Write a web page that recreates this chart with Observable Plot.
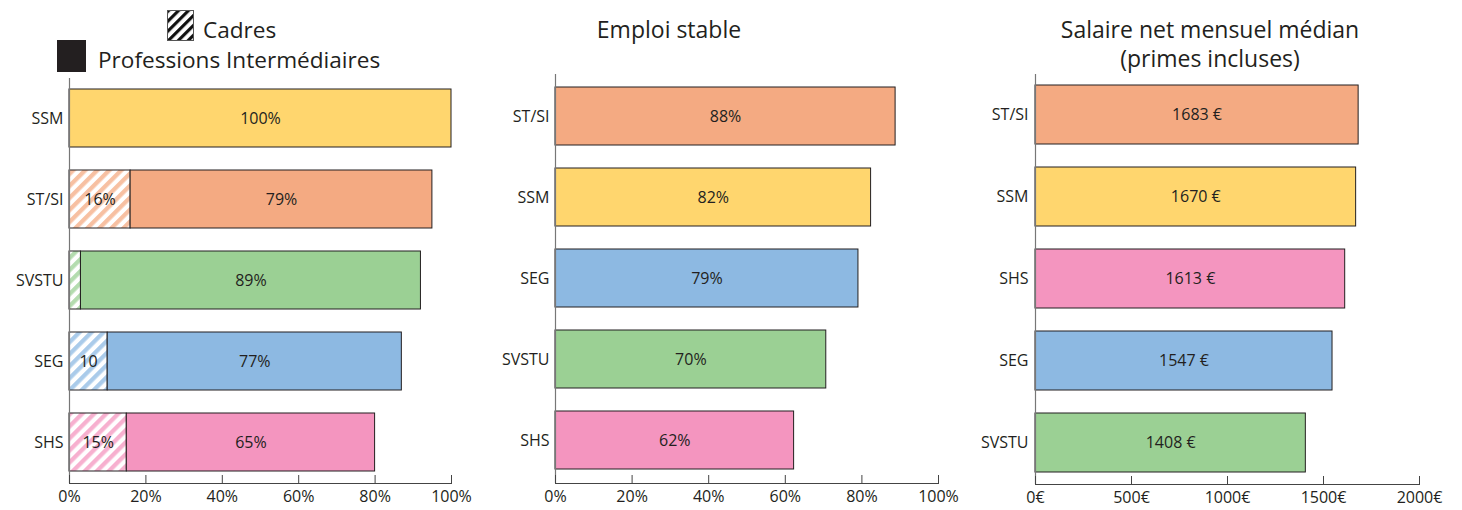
<!DOCTYPE html>
<html><head><meta charset="utf-8">
<script src="https://cdn.jsdelivr.net/npm/d3@7"></script>
<script src="https://cdn.jsdelivr.net/npm/@observablehq/plot@0.6"></script>
<style>
body{margin:0;background:#fff;font-family:"Open Sans",sans-serif;color:#231f20}
#wrap{position:relative;width:1462px;height:510px;overflow:hidden;background:#fff}
.panel{position:absolute;top:0}
.title{position:absolute;font-size:23px;line-height:29px;text-align:center;white-space:nowrap;color:#231f20}
.leg{position:absolute;font-size:22.6px;line-height:30px;white-space:nowrap;color:#231f20}
.leg span{position:relative;top:4px}
</style></head>
<body><div id="wrap">
<div class="leg" style="left:167px;top:10px;display:flex;align-items:center;">
 <svg width="27" height="31" style="margin-right:9px"><defs><pattern id="legHatch" patternUnits="userSpaceOnUse" width="7" height="7" patternTransform="rotate(45)"><rect width="7" height="7" fill="#fff"/><rect width="3.2" height="7" fill="#111"/></pattern></defs><rect x="0.5" y="0.5" width="26" height="30" fill="url(#legHatch)" stroke="#555"/></svg><span>Cadres</span></div>
<div class="leg" style="left:57px;top:40px;display:flex;align-items:center;">
 <svg width="29" height="32" style="margin-right:12px"><rect width="29" height="32" fill="#231f20"/></svg><span>Professions Intermédiaires</span></div>
<div class="title" style="left:569px;width:200px;top:15px">Emploi stable</div>
<div class="title" style="left:1060px;width:300px;top:15px">Salaire net mensuel médian<br>(primes incluses)</div>
</div>
<script>
// ---------- data ----------
const categoriesP1 = ["SSM", "ST/SI", "SVSTU", "SEG", "SHS"];
const cadres = [0, 16, 3, 10, 15];
const cadresLabels = ["", "16%", "", "10", "15%"];
const profInter = [100, 79, 89, 77, 65];
const profInterLabels = ["100%", "79%", "89%", "77%", "65%"];

const categoriesP2 = ["ST/SI", "SSM", "SEG", "SVSTU", "SHS"];
const emploiStable = [88.8, 82.4, 79.1, 70.7, 62.3];
const emploiLabels = ["88%", "82%", "79%", "70%", "62%"];

const categoriesP3 = ["ST/SI", "SSM", "SHS", "SEG", "SVSTU"];
const salaire = [1683, 1670, 1613, 1547, 1408];
const salaireLabels = ["1683 €", "1670 €", "1613 €", "1547 €", "1408 €"];

const pctTicks = [0, 20, 40, 60, 80, 100];
const eurTicks = [0, 500, 1000, 1500, 2000];

const colorKeys = ["SSM", "ST/SI", "SVSTU", "SEG", "SHS"];
const colorValues = ["#FFD66E", "#F4AA82", "#9BD094", "#8DB9E2", "#F495BF"];

// ---------- helpers ----------
const colorOf = c => colorValues[colorKeys.indexOf(c)];
const ink = "#231f20";
const wrap = document.getElementById("wrap");
const baseStyle = {fontFamily: "'Open Sans', sans-serif", fontSize: "16px", color: ink, background: "transparent", overflow: "visible"};

function patternDefs() {
  const defs = d3.create("svg:defs");
  colorKeys.forEach((k, i) => {
    const p = defs.append("pattern").attr("id", "hatch" + i)
      .attr("patternUnits", "userSpaceOnUse").attr("width", 8.5).attr("height", 8.5)
      .attr("patternTransform", "rotate(45)");
    p.append("rect").attr("width", 8.5).attr("height", 8.5).attr("fill", "#fff");
    p.append("rect").attr("width", 4.3).attr("height", 8.5).attr("fill", colorValues[i]).attr("opacity", 0.75);
  });
  return defs.node();
}

function place(svg, left) {
  const d = document.createElement("div");
  d.className = "panel";
  d.style.left = left + "px";
  d.appendChild(svg);
  wrap.appendChild(d);
}

// ---------- panel 1 ----------
const d1 = categoriesP1.map((c, i) => ({cat: c, cadres: cadres[i], pi: profInter[i], cl: cadresLabels[i], pl: profInterLabels[i]}));
const p1 = Plot.plot({
  width: 480, height: 510,
  marginLeft: 69, marginRight: 29, marginTop: 78, marginBottom: 27,
  style: baseStyle,
  x: {domain: [0, 100], label: null},
  y: {domain: categoriesP1, range: [89, 472], paddingInner: 0.28, paddingOuter: 0, label: null},
  color: {type: "identity"},
  marks: [
    patternDefs,
    Plot.barX(d1.filter(d => d.cadres > 0), {y: "cat", x1: 0, x2: "cadres", fill: d => `url(#hatch${colorKeys.indexOf(d.cat)})`, stroke: ink, strokeWidth: 1}),
    Plot.barX(d1, {y: "cat", x1: "cadres", x2: d => d.cadres + d.pi, fill: d => colorOf(d.cat), stroke: ink, strokeWidth: 1}),
    Plot.ruleX([0], {stroke: "#777", strokeWidth: 1.2}),
    Plot.frame({anchor: "bottom", stroke: "#444"}),
    Plot.ruleX(pctTicks, {x: d => d, stroke: "#444", insetTop: 397}),
    Plot.text(d1.filter(d => d.cl), {y: "cat", x: d => d.cadres / 2, text: "cl", fill: ink, fontSize: 16}),
    Plot.text(d1, {y: "cat", x: d => d.cadres + d.pi / 2, text: "pl", fill: ink, fontSize: 16}),
    Plot.axisY({tickSize: 0, tickPadding: 6, fontSize: 16, label: null}),
    Plot.axisX({ticks: pctTicks, tickFormat: d => d + "%", tickSize: 0, tickPadding: 7, fontSize: 16, label: null})
  ]
});
place(p1, 0);

// ---------- panel 2 ----------
const d2 = categoriesP2.map((c, i) => ({cat: c, v: emploiStable[i], l: emploiLabels[i]}));
const p2 = Plot.plot({
  width: 490, height: 510,
  marginLeft: 75, marginRight: 32, marginTop: 74, marginBottom: 27,
  style: baseStyle,
  x: {domain: [0, 100], label: null},
  y: {domain: categoriesP2, range: [85, 472], paddingInner: 0.28, paddingOuter: 0, label: null},
  color: {type: "identity"},
  marks: [
    Plot.barX(d2, {y: "cat", x: "v", fill: d => colorOf(d.cat), stroke: ink, strokeWidth: 1}),
    Plot.ruleX([0], {stroke: "#777", strokeWidth: 1.2}),
    Plot.frame({anchor: "bottom", stroke: "#444"}),
    Plot.ruleX(pctTicks, {x: d => d, stroke: "#444", insetTop: 401}),
    Plot.text(d2, {y: "cat", x: d => d.v / 2, text: "l", fill: ink, fontSize: 16}),
    Plot.axisY({tickSize: 0, tickPadding: 6, fontSize: 16, label: null}),
    Plot.axisX({ticks: pctTicks, tickFormat: d => d + "%", tickSize: 0, tickPadding: 7, fontSize: 16, label: null})
  ]
});
place(p2, 480);

// ---------- panel 3 ----------
const d3d = categoriesP3.map((c, i) => ({cat: c, v: salaire[i], l: salaireLabels[i]}));
const p3 = Plot.plot({
  width: 492, height: 510,
  marginLeft: 65, marginRight: 43, marginTop: 74, marginBottom: 26,
  style: baseStyle,
  x: {domain: [0, 2000], label: null},
  y: {domain: categoriesP3, range: [85, 473], paddingInner: 0.28, paddingOuter: 0, label: null},
  color: {type: "identity"},
  marks: [
    Plot.barX(d3d, {y: "cat", x: "v", fill: d => colorOf(d.cat), stroke: ink, strokeWidth: 1}),
    Plot.ruleX([0], {stroke: "#777", strokeWidth: 1.2}),
    Plot.frame({anchor: "bottom", stroke: "#444"}),
    Plot.ruleX(eurTicks, {x: d => d, stroke: "#444", insetTop: 402}),
    Plot.text(d3d, {y: "cat", x: d => d.v / 2, text: "l", fill: ink, fontSize: 16}),
    Plot.axisY({tickSize: 0, tickPadding: 7, fontSize: 16, label: null}),
    Plot.axisX({ticks: eurTicks, tickFormat: d => d + "€", tickSize: 0, tickPadding: 7, fontSize: 16, label: null})
  ]
});
place(p3, 970);
</script>
</body></html>
